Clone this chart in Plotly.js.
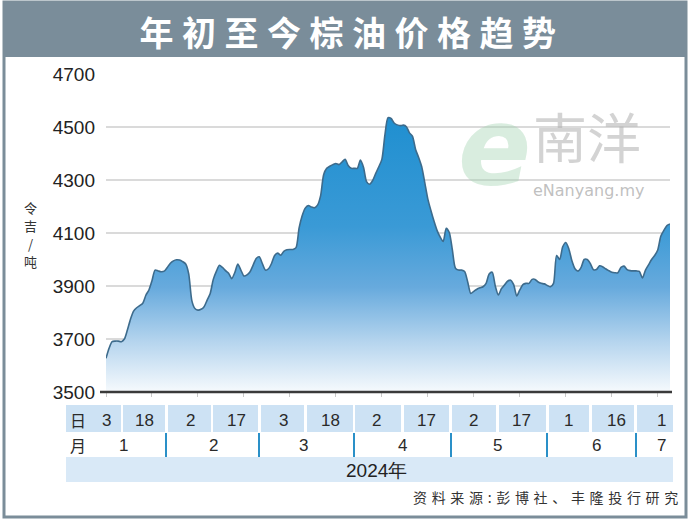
<!DOCTYPE html>
<html><head><meta charset="utf-8">
<script src="https://cdn.plot.ly/plotly-3.0.1.min.js"></script>
<style>html,body{margin:0;padding:0;background:#fff;}#chart{width:690px;height:521px;}</style>
</head><body><div id="chart"></div>
<script>
// ---------- DATA ----------
const dates = [
'2024-01-03','2024-01-04','2024-01-05','2024-01-06','2024-01-07','2024-01-08','2024-01-09','2024-01-10','2024-01-11','2024-01-12','2024-01-13','2024-01-14','2024-01-15','2024-01-16','2024-01-17','2024-01-18','2024-01-19','2024-01-20','2024-01-21','2024-01-22','2024-01-23','2024-01-24','2024-01-25','2024-01-26','2024-01-27','2024-01-28','2024-01-29','2024-01-30','2024-01-31',
'2024-02-01','2024-02-02','2024-02-03','2024-02-04','2024-02-05','2024-02-06','2024-02-07','2024-02-08','2024-02-09','2024-02-10','2024-02-11','2024-02-12','2024-02-13','2024-02-14','2024-02-15','2024-02-16','2024-02-17','2024-02-18','2024-02-19','2024-02-20','2024-02-21','2024-02-22','2024-02-23','2024-02-24','2024-02-25','2024-02-26','2024-02-27','2024-02-28','2024-02-29',
'2024-03-01','2024-03-02','2024-03-03','2024-03-04','2024-03-05','2024-03-06','2024-03-07','2024-03-08','2024-03-09','2024-03-10','2024-03-11','2024-03-12','2024-03-13','2024-03-14','2024-03-15','2024-03-16','2024-03-17','2024-03-18','2024-03-19','2024-03-20','2024-03-21','2024-03-22','2024-03-23','2024-03-24','2024-03-25','2024-03-26','2024-03-27','2024-03-28','2024-03-29','2024-03-30','2024-03-31',
'2024-04-01','2024-04-02','2024-04-03','2024-04-04','2024-04-05','2024-04-06','2024-04-07','2024-04-08','2024-04-09','2024-04-10','2024-04-11','2024-04-12','2024-04-13','2024-04-14','2024-04-15','2024-04-16','2024-04-17','2024-04-18','2024-04-19','2024-04-20','2024-04-21','2024-04-22','2024-04-23','2024-04-24','2024-04-25','2024-04-26','2024-04-27','2024-04-28','2024-04-29','2024-04-30',
'2024-05-01','2024-05-02','2024-05-03','2024-05-04','2024-05-05','2024-05-06','2024-05-07','2024-05-08','2024-05-09','2024-05-10','2024-05-11','2024-05-12','2024-05-13','2024-05-14','2024-05-15','2024-05-16','2024-05-17','2024-05-18','2024-05-19','2024-05-20','2024-05-21','2024-05-22','2024-05-23','2024-05-24','2024-05-25','2024-05-26','2024-05-27','2024-05-28','2024-05-29','2024-05-30','2024-05-31',
'2024-06-01','2024-06-02','2024-06-03','2024-06-04','2024-06-05','2024-06-06','2024-06-07','2024-06-08','2024-06-09','2024-06-10','2024-06-11','2024-06-12','2024-06-13','2024-06-14','2024-06-15','2024-06-16','2024-06-17','2024-06-18','2024-06-19','2024-06-20','2024-06-21','2024-06-22','2024-06-23','2024-06-24','2024-06-25','2024-06-26','2024-06-27','2024-06-28','2024-06-29','2024-06-30',
'2024-07-01','2024-07-02','2024-07-03','2024-07-04','2024-07-05'
];
const prices = [
3627,3665,3690,3692,3692,3690,3700,3735,3775,3805,3818,3826,3835,3865,3885,3920,3960,3957,3954,3956,3970,3986,3995,3999,3998,3992,3983,3945,3845,
3815,3809,3812,3822,3847,3872,3925,3955,3978,3970,3958,3948,3928,3950,3983,3960,3938,3942,3954,3979,4004,4010,3985,3960,3965,3985,4015,4024,4016,
4031,4037,4038,4038,4045,4119,4165,4194,4204,4198,4195,4205,4240,4320,4344,4352,4358,4362,4358,4368,4378,4355,4344,4344,4344,4375,4348,4294,4284,4298,4325,
4350,4378,4470,4535,4532,4515,4508,4505,4507,4501,4478,4465,4415,4385,4350,4290,4228,4185,4145,4110,4085,4068,4118,4102,4036,3967,3960,3960,3955,3915,
3872,3880,3888,3893,3897,3910,3945,3952,3900,3866,3890,3904,3918,3922,3905,3862,3885,3905,3910,3910,3925,3925,3915,3910,3908,3902,3897,3910,4015,4000,4048,
4064,4040,3995,3965,3956,3970,4000,4000,3985,3962,3962,3976,3973,3965,3958,3952,3950,3950,3970,3975,3962,3958,3957,3957,3955,3930,3960,3980,4000,4015,
4036,4088,4110,4128,4134
];
const tickDates = ['2024-01-03','2024-01-18','2024-02-02','2024-02-17','2024-03-03','2024-03-18','2024-04-02','2024-04-17','2024-05-02','2024-05-17','2024-06-01','2024-06-16','2024-07-01'];
const dayLabels = ['3','18','2','17','3','18','2','17','2','17','1','16','1'];
const monthLabels = ['1','2','3','4','5','6','7'];
const yTicks = [3500,3700,3900,4100,4300,4500,4700];
const titleText = '年初至今棕油价格趋势';
const unitChars = ['令','吉','/','吨'];
const yearText = '2024年';
const sourceText = '资料来源:彭博社、丰隆投行研究';

// ---------- LAYOUT GEOMETRY (pixels) ----------
const L = 106, R = 670, T = 74, B = 392;
const px = v => (v - L) / (R - L);
const py = v => (B - v) / (B - T);
const DAY_LABEL_PX = [106,144,190,236,283,330,376,426,473,521,568,616,661];
const MONTH_LABEL_PX = [123,213,303,402,497,596,661];
const MONTH_SEP_PX = [166,259,354,451,547,636];
const DAY_CELLS_PX = [[66,121],[123,165],[168,211],[213,258],[261,304],[307,353],[355,401],[404,449],[452,496],[499,546],[549,589],[592,634],[637,673]];
const UNIT_Y_PX = [207,225,243,261];

const spaced = (s, g) => s.split('').join(g);

const shapes = [];
shapes.push({type:'rect', xref:'paper', yref:'paper', x0:px(4), x1:px(686), y0:py(517), y1:py(2), line:{color:'#7b8d99', width:3}, fillcolor:'rgba(0,0,0,0)', layer:'below'});
shapes.push({type:'rect', xref:'paper', yref:'paper', x0:px(4), x1:px(686), y0:py(57), y1:py(2), line:{width:0}, fillcolor:'#7a8d9a', layer:'below'});
DAY_CELLS_PX.forEach(c => shapes.push({type:'rect', xref:'paper', yref:'paper', x0:px(c[0]), x1:px(c[1]), y0:py(432), y1:py(405), line:{width:0}, fillcolor:'#cde2f4', layer:'below'}));
shapes.push({type:'rect', xref:'paper', yref:'paper', x0:px(66), x1:px(673), y0:py(482), y1:py(457), line:{width:0}, fillcolor:'#d9e9f7', layer:'below'});
MONTH_SEP_PX.forEach(x => shapes.push({type:'line', xref:'paper', yref:'paper', x0:px(x), x1:px(x), y0:py(457), y1:py(433), line:{color:'#2a90c8', width:2}}));
shapes.push({type:'line', xref:'paper', yref:'paper', x0:px(100), x1:px(672), y0:py(392), y1:py(392), line:{color:'#3a3a3a', width:2.5}, layer:'above'});

const numFont = {family:'Liberation Sans, Arial, sans-serif', size:17, color:'#2a2a2a'};
const cjkFont = {family:'Noto Sans CJK SC, sans-serif', size:16, color:'#2a2a2a'};
const ann = [];
const A = (x, y, text, font, extra) => ann.push(Object.assign({xref:'paper', yref:'paper', x:px(x), y:py(y), text, font, showarrow:false, xanchor:'center', yanchor:'middle'}, extra || {}));

unitChars.forEach((c, i) => A(30, UNIT_Y_PX[i], c, {family:'Noto Sans CJK SC, sans-serif', size:13, color:'#333'}));
A(78, 420, '日', cjkFont);
A(78, 445, '月', cjkFont);
dayLabels.forEach((t, i) => A(DAY_LABEL_PX[i], 420, t, numFont));
monthLabels.forEach((t, i) => A(MONTH_LABEL_PX[i], 445, t, numFont));
A(376, 470, yearText, {family:'Liberation Sans, Arial, sans-serif', size:19, color:'#222'});
A(680, 497, spaced(sourceText, '\u2004'), {family:'Noto Sans CJK SC, sans-serif', size:14, color:'#333'}, {xanchor:'right'});
// watermark
A(494, 146, 'e', {family:'DejaVu Sans', size:108, color:'rgba(160,210,175,0.4)', style:'italic', weight:'bold'});
A(587, 135, '南洋', {family:'Noto Sans CJK SC, sans-serif', size:54, color:'rgba(175,175,175,0.55)'});
A(588, 190, 'eNanyang.my', {family:'DejaVu Sans', size:16, color:'rgba(175,175,175,0.8)'});

const trace = {
  type:'scatter', mode:'lines', x:dates, y:prices,
  line:{color:'#3d6b8c', width:1.6, shape:'spline', smoothing:0.7},
  fill:'tozeroy',
  fillgradient:{type:'vertical', start:3500, stop:4540,
    colorscale:[[0,'#f6fafd'],[0.18,'#b6d5ee'],[0.38,'#67aadd'],[0.6,'#3a9ad6'],[1,'#1f8fd0']]},
  hoverinfo:'skip'
};

const layout = {
  width:690, height:521,
  margin:{l:L, r:690-R, t:T, b:521-B},
  paper_bgcolor:'#ffffff', plot_bgcolor:'#ffffff',
  showlegend:false,
  title:{text:spaced(titleText, '\u2005'), x:0.504, xanchor:'center', xref:'container', y:1-34/521, yanchor:'middle', yref:'container',
    font:{family:'Noto Sans CJK SC, sans-serif', size:34, color:'#ffffff', weight:'bold'}},
  xaxis:{type:'date', range:['2024-01-03','2024-07-05'], tickvals:tickDates, showticklabels:false,
    ticks:'outside', ticklen:4, tickcolor:'#c8c8c8', tickwidth:1, showgrid:false, zeroline:false, showline:false, fixedrange:true},
  yaxis:{range:[3500,4700], tickvals:yTicks, ticks:'', showline:false, zeroline:false,
    gridcolor:'#dadada', gridwidth:1.5, ticklabelstandoff:10,
    tickfont:{family:'Liberation Sans, Arial, sans-serif', size:19, color:'#222'}, fixedrange:true},
  shapes, annotations:ann
};
Plotly.newPlot('chart', [trace], layout, {displayModeBar:false, staticPlot:true});
</script></body></html>
